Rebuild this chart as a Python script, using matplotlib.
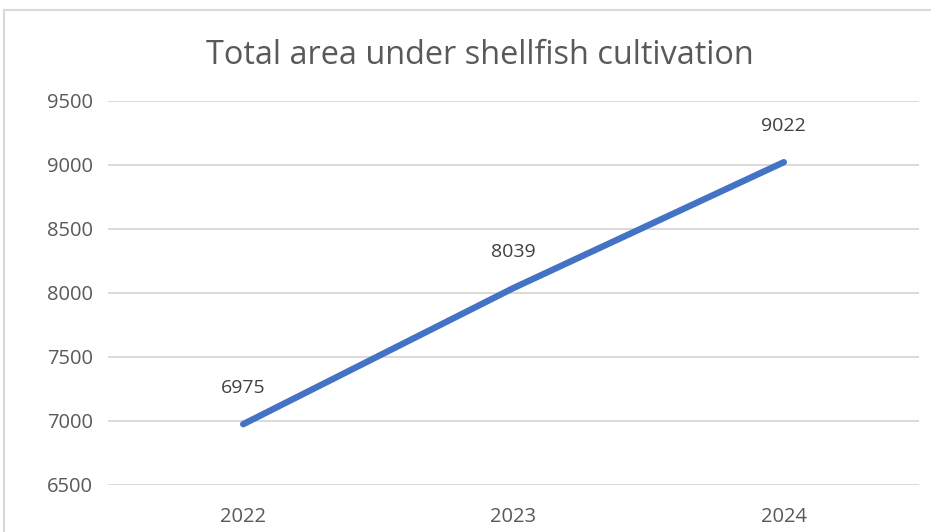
import matplotlib
matplotlib.use("Agg")
import matplotlib.pyplot as plt
from matplotlib.lines import Line2D

years = ["2022", "2023", "2024"]
area = [6975, 8039, 9022]
yticks = [6500, 7000, 7500, 8000, 8500, 9000, 9500]

W, H = 931, 532
fig = plt.figure(figsize=(W / 100, H / 100), dpi=100)
plt.rcParams['font.family'] = ['Open Sans', 'DejaVu Sans']

ax = fig.add_axes([108 / W, 1 - 485 / H, (919 - 108) / W, (485 - 101) / H])
x = list(range(len(years)))
ax.plot(x, area, color="#4472C4", lw=4.6, solid_capstyle="round", zorder=3)
for xi, v in zip(x, area):
    ax.annotate(str(v), (xi, v), xytext=(0, 36), textcoords="offset pixels",
                ha="center", va="center", fontsize=14, color="#404040")

ax.set_xlim(-0.5, 2.5)
ax.set_ylim(6500, 9500)
ax.set_yticks(yticks)
ax.set_xticks(x)
ax.set_xticklabels(years)
ax.grid(axis="y", color="#D9D9D9", lw=1.4)
ax.set_axisbelow(True)
for s in ax.spines.values():
    s.set_visible(False)
ax.tick_params(axis="both", length=0, labelsize=14.5, labelcolor="#595959")
ax.tick_params(axis="y", pad=11)
ax.tick_params(axis="x", pad=15.5)

fig.text(480 / W, 1 - 56 / H, "Total area under shellfish cultivation",
         ha="center", va="center", fontsize=23.4, color="#595959")

# chart border (top and left)
fig.add_artist(Line2D([4 / W, 1.0], [1 - 10 / H, 1 - 10 / H], color="#D9D9D9", lw=1.5))
fig.add_artist(Line2D([4 / W, 4 / W], [0, 1 - 10 / H], color="#D9D9D9", lw=1.5))

fig.savefig("out.png", dpi=100)
